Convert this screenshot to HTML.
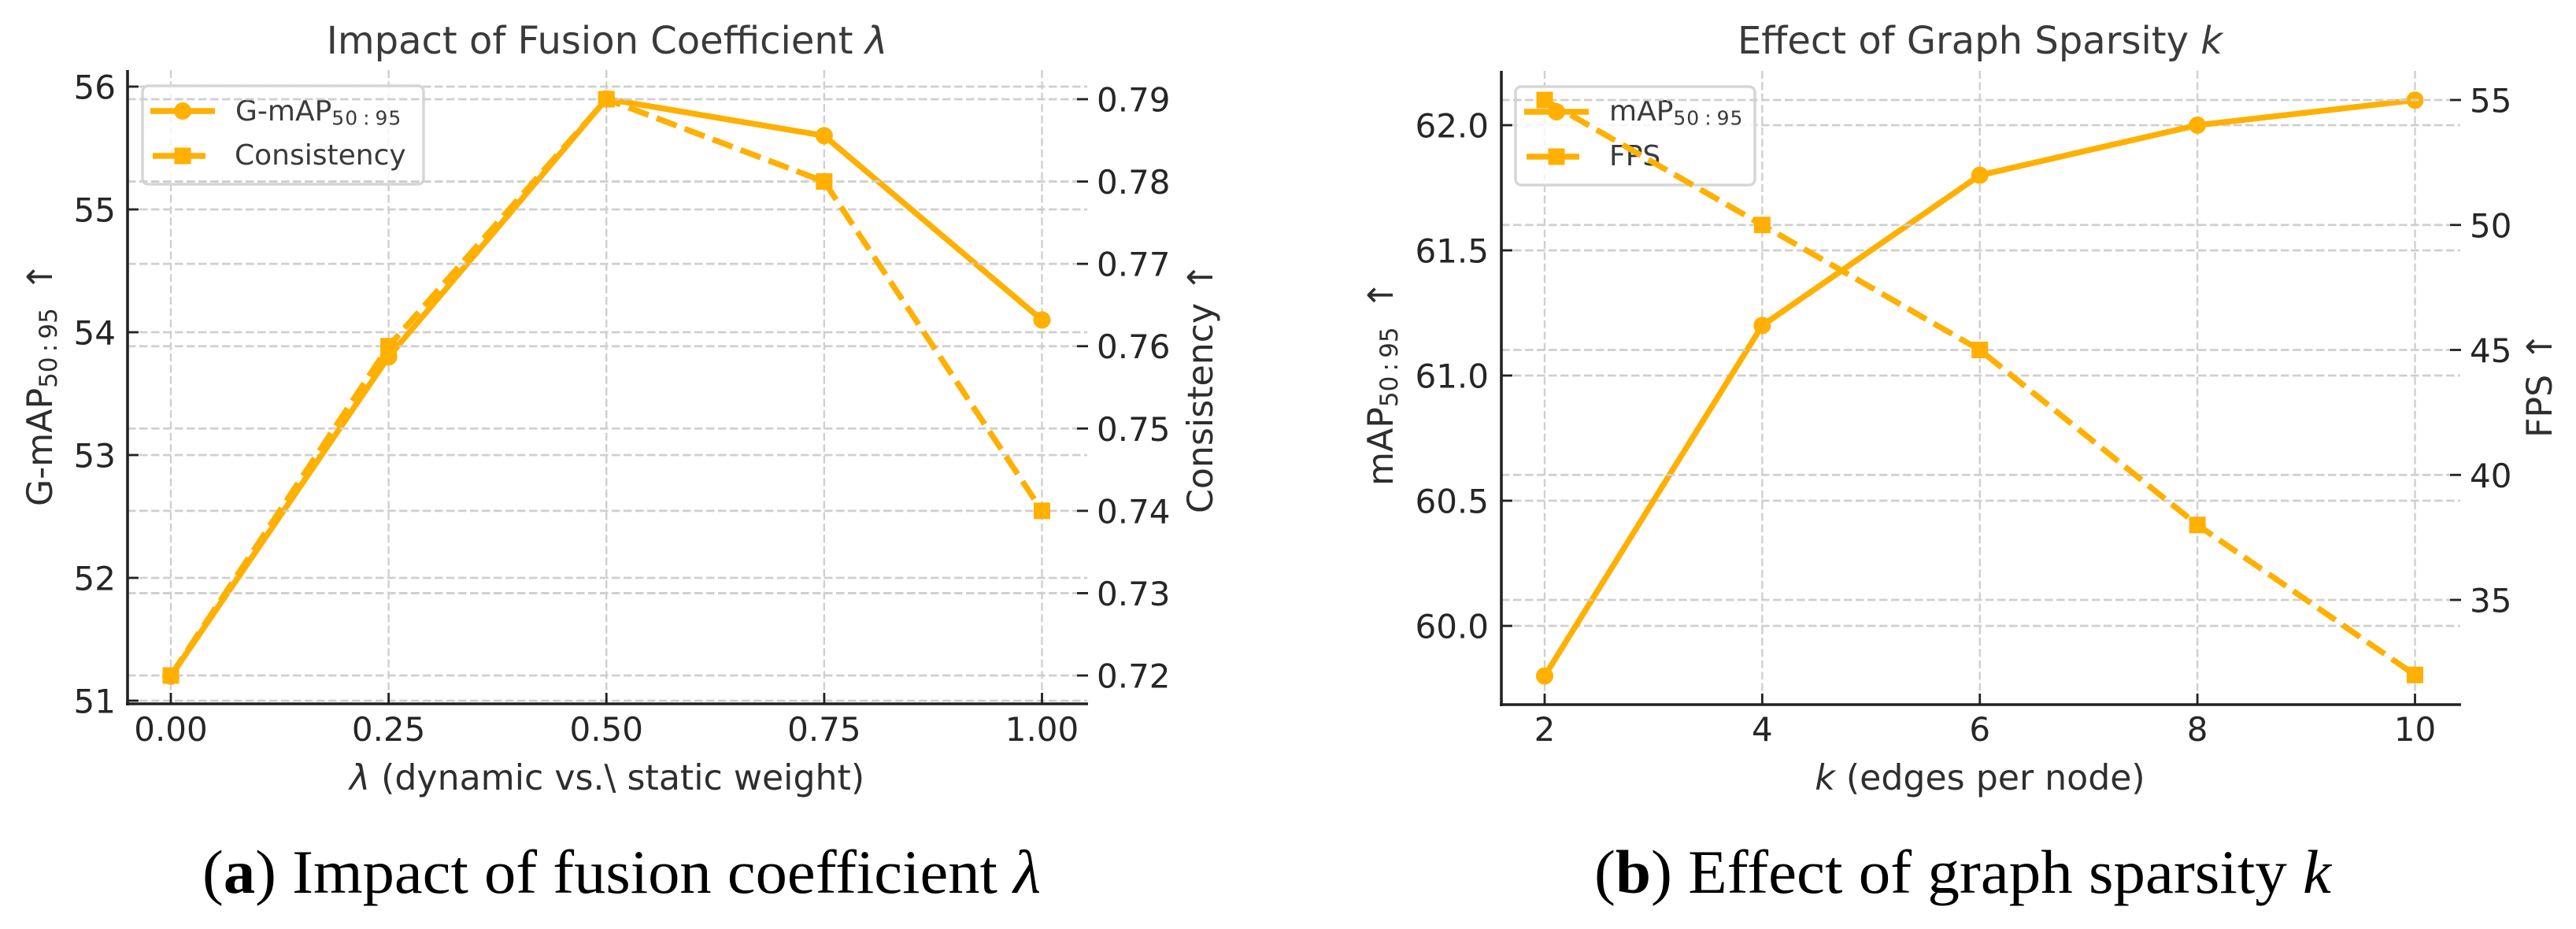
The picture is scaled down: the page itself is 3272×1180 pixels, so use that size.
<!DOCTYPE html>
<html lang="en">
<head>
<meta charset="utf-8">
<title>Fusion coefficient and graph sparsity charts</title>
<style>
html,body{margin:0;padding:0;background:#fff;}
body{width:3272px;height:1180px;overflow:hidden;}
svg{display:block;font-family:"DejaVu Sans","Liberation Sans",sans-serif;}
.title{font-size:48px;fill:#3a3a3a;text-anchor:middle;}
.axis-label{font-size:44.2px;fill:#2e2e2e;}
.legend-text{font-size:36px;fill:#3a3a3a;}
.legend-sub{font-size:25px;letter-spacing:1px;}
.tick-label{font-size:42px;fill:#262626;}
.caption{font-family:"Liberation Serif",serif;font-size:78px;fill:#000;}
.it{font-style:italic;}
</style>
</head>
<body>
<svg id="figure" xmlns="http://www.w3.org/2000/svg" width="3272" height="1180" viewBox="0 0 3272 1180">
  <rect x="0" y="0" width="3272" height="1180" fill="#fff"/>

  <g id="panel-a">
    <text class="title" x="771" y="68">Impact of Fusion Coefficient <tspan class="it">λ</tspan></text>
    <g id="a-grid-primary"></g>
    <g id="a-series-primary"></g>
    <g>
      <rect x="181" y="109" width="357" height="125" rx="7" fill="#fff" fill-opacity="0.8" stroke="#d6d6d6" stroke-width="3.5"/>
      <g>
        <line x1="191" y1="141" x2="273" y2="141" stroke="#FFB000" stroke-width="7.4"/>
        <circle cx="232" cy="141" r="11" fill="#FFB000"/>
        <text class="legend-text" x="299" y="153">G-mAP<tspan class="legend-sub" dy="5.5">50&#8201;:&#8201;95</tspan></text>
      </g>
      <g>
        <line x1="194" y1="198" x2="261" y2="198" stroke="#FFB000" stroke-width="7.4"/>
        <rect x="221.5" y="187.5" width="21" height="21" fill="#FFB000"/>
        <text class="legend-text" x="298" y="209">Consistency</text>
      </g>
    </g>
    <g id="a-grid-secondary"></g>
    <g id="a-series-secondary"></g>
    <g id="a-axes"></g>
    <text class="axis-label" x="771" y="1003" text-anchor="middle"><tspan class="it">λ</tspan> (dynamic vs.\ static weight)</text>
    <text class="axis-label" transform="translate(66,643) rotate(-90)">G-mAP<tspan font-size="31" dy="6">50&#8201;:&#8201;95</tspan><tspan dy="-6" dx="21">↑</tspan></text>
    <text class="axis-label" transform="translate(1540,652) rotate(-90)">Consistency ↑</text>
    <text class="caption" x="257" y="1134" textLength="1065" lengthAdjust="spacingAndGlyphs">(<tspan font-weight="bold">a</tspan>) Impact of fusion coefficient <tspan class="it">λ</tspan></text>
  </g>

  <g id="panel-b">
    <text class="title" x="2515" y="68">Effect of Graph Sparsity <tspan class="it">k</tspan></text>
    <g id="b-grid-primary"></g>
    <g id="b-series-primary"></g>
    <g>
      <rect x="1925" y="110" width="304" height="125" rx="7" fill="#fff" fill-opacity="0.8" stroke="#d6d6d6" stroke-width="3.5"/>
      <g>
        <line x1="1936" y1="142" x2="2018" y2="142" stroke="#FFB000" stroke-width="7.4"/>
        <circle cx="1977" cy="142" r="11" fill="#FFB000"/>
        <text class="legend-text" x="2044" y="153">mAP<tspan class="legend-sub" dy="5.5">50&#8201;:&#8201;95</tspan></text>
      </g>
      <g>
        <line x1="1939" y1="199" x2="2006" y2="199" stroke="#FFB000" stroke-width="7.4"/>
        <rect x="1966.5" y="188.5" width="21" height="21" fill="#FFB000"/>
        <text class="legend-text" x="2044" y="210">FPS</text>
      </g>
    </g>
    <g id="b-grid-secondary"></g>
    <g id="b-series-secondary"></g>
    <g id="b-axes"></g>
    <text class="axis-label" x="2515" y="1003" text-anchor="middle"><tspan class="it">k</tspan> (edges per node)</text>
    <text class="axis-label" transform="translate(1769,617) rotate(-90)">mAP<tspan font-size="31" dy="6">50&#8201;:&#8201;95</tspan><tspan dy="-6" dx="22">↑</tspan></text>
    <text class="axis-label" transform="translate(3241,556) rotate(-90)">FPS <tspan dx="3">↑</tspan></text>
    <text class="caption" x="2025" y="1134" textLength="936" lengthAdjust="spacingAndGlyphs">(<tspan font-weight="bold">b</tspan>) Effect of graph sparsity <tspan class="it">k</tspan></text>
  </g>
</svg>

<script>
// Panel (a) data
const lambdaValues = [0, 0.25, 0.5, 0.75, 1];
const lambdaTickLabels = ['0.00', '0.25', '0.50', '0.75', '1.00'];
const gmapValues = [51.2, 53.8, 55.9, 55.6, 54.1];
const consistencyValues = [0.72, 0.76, 0.79, 0.78, 0.74];
const gmapTicks = [51, 52, 53, 54, 55, 56];
const gmapTickLabels = ['51', '52', '53', '54', '55', '56'];
const consistencyTicks = [0.72, 0.73, 0.74, 0.75, 0.76, 0.77, 0.78, 0.79];
const consistencyTickLabels = ['0.72', '0.73', '0.74', '0.75', '0.76', '0.77', '0.78', '0.79'];

// Panel (b) data
const kValues = [2, 4, 6, 8, 10];
const kTickLabels = ['2', '4', '6', '8', '10'];
const mapValues = [59.8, 61.2, 61.8, 62.0, 62.1];
const fpsValues = [55, 50, 45, 38, 32];
const mapTicks = [60, 60.5, 61, 61.5, 62];
const mapTickLabels = ['60.0', '60.5', '61.0', '61.5', '62.0'];
const fpsTicks = [35, 40, 45, 50, 55];
const fpsTickLabels = ['35', '40', '45', '50', '55'];

const SVG_NS = 'http://www.w3.org/2000/svg';
const ORANGE = '#FFB000';
const GRID = '#cfcfcf';
const INK = '#222222';

function linear(d0, d1, p0, p1) {
  return function (v) { return p0 + (v - d0) * (p1 - p0) / (d1 - d0); };
}

function add(parent, tag, attrs, name) {
  const el = document.createElementNS(SVG_NS, tag);
  Object.keys(attrs).forEach(function (k) { el.setAttribute(k, attrs[k]); });
  
  
  parent.appendChild(el);
  return el;
}

function horizontalGrid(layer, ticks, y, x0, x1, prefix) {
  ticks.forEach(function (t, i) {
    add(layer, 'line', {
      x1: x0, x2: x1, y1: y(t), y2: y(t),
      stroke: GRID, 'stroke-width': 2.8, 'stroke-dasharray': '10.5 4.5'
    }, prefix + '-gridline-' + i);
  });
}

function verticalGrid(layer, ticks, x, y0, y1, prefix) {
  ticks.forEach(function (t, i) {
    add(layer, 'line', {
      x1: x(t), x2: x(t), y1: y0, y2: y1,
      stroke: GRID, 'stroke-width': 2.4, 'stroke-dasharray': '10 4.4'
    }, prefix + '-gridline-' + i);
  });
}

function drawSeries(layer, xs, ys, x, y, marker, prefix) {
  const pts = xs.map(function (v, i) { return x(v) + ',' + y(ys[i]); }).join(' ');
  const attrs = {
    points: pts, fill: 'none', stroke: ORANGE, 'stroke-width': 7.4,
    'stroke-linejoin': 'round'
  };
  if (marker === 'square') { attrs['stroke-dasharray'] = '27 11'; }
  add(layer, 'polyline', attrs, prefix + '-line');
  xs.forEach(function (v, i) {
    if (marker === 'circle') {
      add(layer, 'circle', { cx: x(v), cy: y(ys[i]), r: 11, fill: ORANGE }, prefix + '-point-' + i);
    } else {
      add(layer, 'rect', { x: x(v) - 10.5, y: y(ys[i]) - 10.5, width: 21, height: 21, fill: ORANGE }, prefix + '-point-' + i);
    }
  });
}

function drawAxes(layer, cfg) {
  add(layer, 'line', { x1: cfg.left, x2: cfg.left, y1: cfg.top, y2: cfg.bottom + 2, stroke: INK, 'stroke-width': 3.6 }, cfg.prefix + '-left-spine');
  add(layer, 'line', { x1: cfg.left - 2, x2: cfg.right, y1: cfg.bottom, y2: cfg.bottom, stroke: INK, 'stroke-width': 3.6 }, cfg.prefix + '-bottom-spine');

  cfg.xTicks.forEach(function (t, i) {
    const px = cfg.x(t);
    add(layer, 'line', { x1: px, x2: px, y1: cfg.bottom, y2: cfg.bottom - 14, stroke: INK, 'stroke-width': 2.8 }, cfg.prefix + '-x-tick-' + i);
    const label = add(layer, 'text', { x: px, y: 941, class: 'tick-label', 'text-anchor': 'middle' }, cfg.prefix + '-x-tick-label-' + i);
    label.textContent = cfg.xLabels[i];
  });

  cfg.leftTicks.forEach(function (t, i) {
    const py = cfg.yLeft(t);
    add(layer, 'line', { x1: cfg.left, x2: cfg.left + 14, y1: py, y2: py, stroke: INK, 'stroke-width': 2.8 }, cfg.prefix + '-left-tick-' + i);
    const label = add(layer, 'text', { x: cfg.leftLabelX, y: py + 15.5, class: 'tick-label', 'text-anchor': 'end' }, cfg.prefix + '-left-tick-label-' + i);
    label.textContent = cfg.leftLabels[i];
  });

  cfg.rightTicks.forEach(function (t, i) {
    const py = cfg.yRight(t);
    add(layer, 'line', { x1: cfg.right - 14, x2: cfg.right, y1: py, y2: py, stroke: INK, 'stroke-width': 2.8 }, cfg.prefix + '-right-tick-' + i);
    const label = add(layer, 'text', { x: cfg.rightLabelX, y: py + 15.5, class: 'tick-label', 'text-anchor': 'start' }, cfg.prefix + '-right-tick-label-' + i);
    label.textContent = cfg.rightLabels[i];
  });
}

function byId(id) { return document.getElementById(id); }

// Panel (a) scales and drawing
const ax = linear(0, 1, 217, 1323.5);
const ayL = linear(51, 56, 890, 110);
const ayR = linear(0.72, 0.79, 858, 126);
verticalGrid(byId('a-grid-primary'), lambdaValues, ax, 89, 894, 'a-vertical');
horizontalGrid(byId('a-grid-primary'), gmapTicks, ayL, 162, 1381, 'a-left');
drawSeries(byId('a-series-primary'), lambdaValues, gmapValues, ax, ayL, 'circle', 'gmap');
horizontalGrid(byId('a-grid-secondary'), consistencyTicks, ayR, 162, 1381, 'a-right');
drawSeries(byId('a-series-secondary'), lambdaValues, consistencyValues, ax, ayR, 'square', 'consistency');
drawAxes(byId('a-axes'), {
  prefix: 'a', left: 162, right: 1382, top: 89, bottom: 894,
  x: ax, yLeft: ayL, yRight: ayR,
  xTicks: lambdaValues, xLabels: lambdaTickLabels,
  leftTicks: gmapTicks, leftLabels: gmapTickLabels, leftLabelX: 147,
  rightTicks: consistencyTicks, rightLabels: consistencyTickLabels, rightLabelX: 1393
});

// Panel (b) scales and drawing
const bx = linear(2, 10, 1962, 3067.5);
const byL = linear(60, 62, 795, 159);
const byR = linear(35, 55, 762, 127);
verticalGrid(byId('b-grid-primary'), kValues, bx, 90, 894, 'b-vertical');
horizontalGrid(byId('b-grid-primary'), mapTicks, byL, 1907, 3125, 'b-left');
drawSeries(byId('b-series-primary'), kValues, mapValues, bx, byL, 'circle', 'map');
horizontalGrid(byId('b-grid-secondary'), fpsTicks, byR, 1907, 3125, 'b-right');
drawSeries(byId('b-series-secondary'), kValues, fpsValues, bx, byR, 'square', 'fps');
drawAxes(byId('b-axes'), {
  prefix: 'b', left: 1907, right: 3126, top: 90, bottom: 895,
  x: bx, yLeft: byL, yRight: byR,
  xTicks: kValues, xLabels: kTickLabels,
  leftTicks: mapTicks, leftLabels: mapTickLabels, leftLabelX: 1891,
  rightTicks: fpsTicks, rightLabels: fpsTickLabels, rightLabelX: 3137
});
</script>
</body>
</html>
